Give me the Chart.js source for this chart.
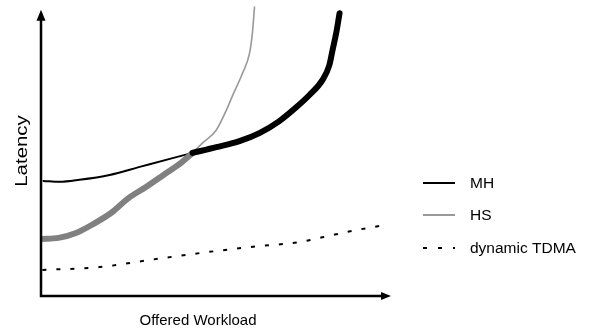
<!DOCTYPE html>
<html>
<head>
<meta charset="utf-8">
<script src="https://cdn.jsdelivr.net/npm/chart.js@4"></script>
<style>
  body { margin: 0; background: #fff; }
  #wrap { width: 592px; height: 334px; position: relative; }
</style>
</head>
<body>
<div id="wrap"><canvas id="latencyChart"></canvas></div>
<script>
// offered workload (0-100) vs latency (0-100)
const mhLowX = [0.7, 5.3, 11.0, 19.6, 28.2, 36.8, 43.3];
const mhLowY = [40.2, 39.9, 40.6, 42.3, 45.1, 47.9, 50.0];
const mhHighX = [43.3, 50.1, 56.7, 62.4, 68.1, 73.0, 76.7, 80.4, 82.4, 83.3, 84.4, 85.3];
const mhHighY = [50.0, 52.0, 54.1, 56.9, 61.1, 66.0, 70.2, 75.4, 80.7, 85.9, 92.2, 98.8];

const hsLowX = [0.1, 5, 10, 15, 20, 25, 30, 35, 40, 43.3];
const hsLowY = [19.9, 20.3, 22.0, 25.2, 29.0, 34.2, 38.1, 42.3, 46.5, 50.0];
const hsHighX = [43.3, 46.1, 50.1, 53.0, 54.7, 57.6, 59.6, 60.4, 61.0];
const hsHighY = [50.0, 53.4, 58.0, 65.0, 69.9, 77.9, 84.9, 91.9, 100.9];

const tdmaX = [0.4, 16.8, 31.1, 45.4, 59.7, 74.1, 80.7, 90.4, 97.0];
const tdmaY = [9.1, 10.1, 12.6, 15.0, 17.1, 18.9, 20.6, 23.1, 24.5];

const legendLabels = ['MH', 'HS', 'dynamic TDMA'];
const xTitle = 'Offered Workload';
const yTitle = 'Latency';

const FONT = '"Liberation Sans", Arial, sans-serif';

function pts(xs, ys) {
  return xs.map((x, i) => ({ x: x, y: ys[i] }));
}

function series(xs, ys, color, width, order, dash) {
  return {
    data: pts(xs, ys),
    borderColor: color,
    borderWidth: width,
    borderDash: dash || [],
    borderCapStyle: dash ? 'butt' : 'round',
    pointRadius: 0,
    showLine: true,
    fill: false,
    cubicInterpolationMode: 'monotone',
    order: order
  };
}

// axes with arrows, axis titles and the legend
const decorations = {
  id: 'decorations',
  afterDatasetsDraw(chart) {
    const ctx = chart.ctx;
    const x = chart.scales.x, y = chart.scales.y;
    const ox = x.getPixelForValue(0), oy = y.getPixelForValue(0);
    const tx = x.getPixelForValue(100), ty = y.getPixelForValue(100);

    ctx.save();
    ctx.strokeStyle = '#000';
    ctx.fillStyle = '#000';
    ctx.lineWidth = 2.5;
    ctx.beginPath();
    ctx.moveTo(ox, ty + 8);
    ctx.lineTo(ox, oy);
    ctx.lineTo(tx - 8, oy);
    ctx.stroke();

    ctx.beginPath();
    ctx.moveTo(ox, ty);
    ctx.lineTo(ox - 4.5, ty + 11);
    ctx.lineTo(ox + 4.5, ty + 11);
    ctx.closePath();
    ctx.fill();

    ctx.beginPath();
    ctx.moveTo(tx, oy);
    ctx.lineTo(tx - 10, oy - 4);
    ctx.lineTo(tx - 10, oy + 4);
    ctx.closePath();
    ctx.fill();

    ctx.font = '15px ' + FONT;
    ctx.textAlign = 'center';
    ctx.textBaseline = 'middle';
    ctx.fillText(xTitle, 198, 321);

    ctx.save();
    ctx.translate(22, 151);
    ctx.rotate(-Math.PI / 2);
    ctx.scale(1.2, 1);
    ctx.font = '17px ' + FONT;
    ctx.fillText(yTitle, 0, 0);
    ctx.restore();

    // legend
    const rows = [
      { y: 183, color: '#000', width: 2, dash: [] },
      { y: 215, color: '#999', width: 2, dash: [] },
      { y: 248, color: '#000', width: 2, dash: [4, 11] }
    ];
    ctx.textAlign = 'left';
    ctx.font = '15.5px ' + FONT;
    rows.forEach((r, i) => {
      ctx.strokeStyle = r.color;
      ctx.lineWidth = r.width;
      ctx.setLineDash(r.dash);
      ctx.beginPath();
      ctx.moveTo(423, r.y);
      ctx.lineTo(455, r.y);
      ctx.stroke();
      ctx.setLineDash([]);
      ctx.fillStyle = '#000';
      ctx.fillText(legendLabels[i], 470, r.y + 1);
    });
    ctx.restore();
  }
};

new Chart(document.getElementById('latencyChart'), {
  type: 'scatter',
  data: {
    datasets: [
      series(mhLowX, mhLowY, '#000', 2, 2),
      series(mhHighX, mhHighY, '#000', 6, 0),
      series(hsLowX, hsLowY, '#808080', 6, 1),
      series(hsHighX, hsHighY, '#999', 1.6, 3),
      series(tdmaX, tdmaY, '#000', 2, 4, [4, 10])
    ]
  },
  options: {
    responsive: true,
    maintainAspectRatio: false,
    animation: false,
    layout: { padding: { left: 41, right: 201, top: 4, bottom: 38 } },
    plugins: { legend: { display: false }, tooltip: { enabled: false } },
    scales: {
      x: { type: 'linear', min: 0, max: 100, display: false },
      y: { type: 'linear', min: 0, max: 102, display: false }
    }
  },
  plugins: [decorations]
});
</script>
</body>
</html>
